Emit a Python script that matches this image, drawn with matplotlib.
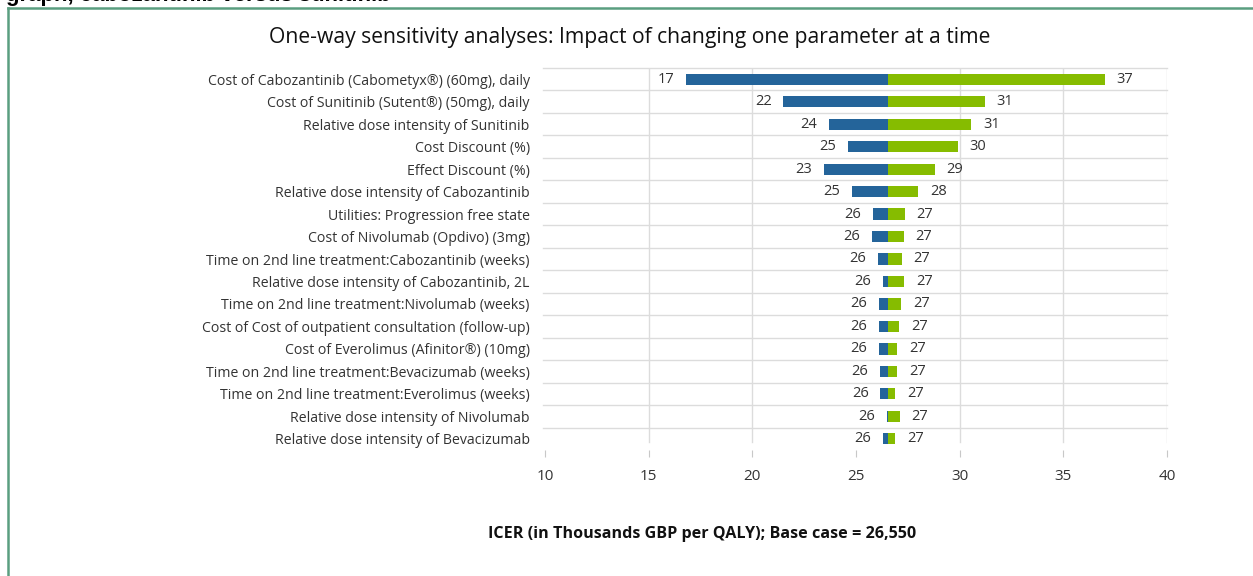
import matplotlib
matplotlib.use("Agg")
import matplotlib.pyplot as plt
from matplotlib.lines import Line2D

plt.rcParams['font.family'] = ['Open Sans', 'DejaVu Sans']

# parameters, top to bottom
params = [
    "Cost of Cabozantinib (Cabometyx®) (60mg), daily",
    "Cost of Sunitinib (Sutent®) (50mg), daily",
    "Relative dose intensity of Sunitinib",
    "Cost Discount (%)",
    "Effect Discount (%)",
    "Relative dose intensity of Cabozantinib",
    "Utilities: Progression free state",
    "Cost of Nivolumab (Opdivo) (3mg)",
    "Time on 2nd line treatment:Cabozantinib (weeks)",
    "Relative dose intensity of Cabozantinib, 2L",
    "Time on 2nd line treatment:Nivolumab (weeks)",
    "Cost of Cost of outpatient consultation (follow-up)",
    "Cost of Everolimus (Afinitor®) (10mg)",
    "Time on 2nd line treatment:Bevacizumab (weeks)",
    "Time on 2nd line treatment:Everolimus (weeks)",
    "Relative dose intensity of Nivolumab",
    "Relative dose intensity of Bevacizumab",
]
low = [16.8, 21.5, 23.7, 24.6, 23.45, 24.8, 25.8, 25.75, 26.07, 26.31,
       26.12, 26.12, 26.12, 26.16, 26.18, 26.48, 26.31]
high = [37.0, 31.2, 30.55, 29.9, 28.8, 28.0, 27.35, 27.3, 27.2, 27.33,
        27.19, 27.09, 26.99, 26.99, 26.88, 27.11, 26.88]
base = 26.55
xticks = [10, 15, 20, 25, 30, 35, 40]

blue = "#24649a"
green = "#86bc00"
grid_c = "#dcdcdc"
W, H = 1253, 576

fig = plt.figure(figsize=(W / 100, H / 100), dpi=100)
ax = fig.add_axes([545 / W, 1 - 450 / H, (1167 - 545) / W, (450 - 68) / H])

y = list(range(len(params)))
ax.barh(y, [l - base for l in low], left=base, height=0.5, color=blue, zorder=3)
ax.barh(y, [h - base for h in high], left=base, height=0.5, color=green, zorder=3)

for i in y:
    ax.annotate(f"{low[i]:.0f}", (low[i], i), xytext=(-8.5, 0), textcoords="offset points",
                ha="right", va="center", fontsize=10.5, color="#333333")
    ax.annotate(f"{high[i]:.0f}", (high[i], i), xytext=(8.5, 0), textcoords="offset points",
                ha="left", va="center", fontsize=10.5, color="#333333")

# grid: horizontal separators, vertical lines (none at 10 / 25 in source)
for b in range(len(params)):
    ax.axhline(b - 0.5, xmin=-0.003, xmax=1, color=grid_c, lw=1, zorder=1, clip_on=False)
for xv in [15, 20, 30, 35, 40]:
    ax.axvline(xv, ymin=0.02, ymax=1, color=grid_c, lw=1, zorder=1)

ax.set_xlim(10, 40)
ax.set_ylim(len(params) - 0.5, -0.5)
ax.set_yticks(y)
ax.set_yticklabels(params, fontsize=10.2, color="#333333")
ax.set_xticks(xticks)
ax.set_xticklabels([str(t) for t in xticks], fontsize=11, color="#333333")
ax.tick_params(axis="y", length=0, pad=11)
ax.tick_params(axis="x", length=5, color="#c8c8c8", pad=9)
for s in ax.spines.values():
    s.set_visible(False)

fig.text(630 / W, 1 - 38 / H, "One-way sensitivity analyses: Impact of changing one parameter at a time",
         ha="center", va="center", fontsize=15.2, color="#111111")
fig.text(702 / W, 1 - 534 / H, "ICER (in Thousands GBP per QALY); Base case = 26,550",
         ha="center", va="center", fontsize=11.6, fontweight="bold", color="#111111")

# cropped caption above the frame
fig.text(6 / W, 1 - 1 / H, "graph, cabozantinib versus sunitinib", ha="left", va="baseline",
         fontsize=16, fontweight="bold", family=["Liberation Sans", "DejaVu Sans"], color="black")

# green frame (runs off right and bottom edges)
frame_c = "#5a9e80"
fig.add_artist(Line2D([8 / W, 8 / W], [0, 1 - 8 / H], transform=fig.transFigure, color=frame_c, lw=1.8))
fig.add_artist(Line2D([8 / W, 1], [1 - 8 / H, 1 - 8 / H], transform=fig.transFigure, color=frame_c, lw=1.8))

fig.savefig("out.png", dpi=100, facecolor="white")
